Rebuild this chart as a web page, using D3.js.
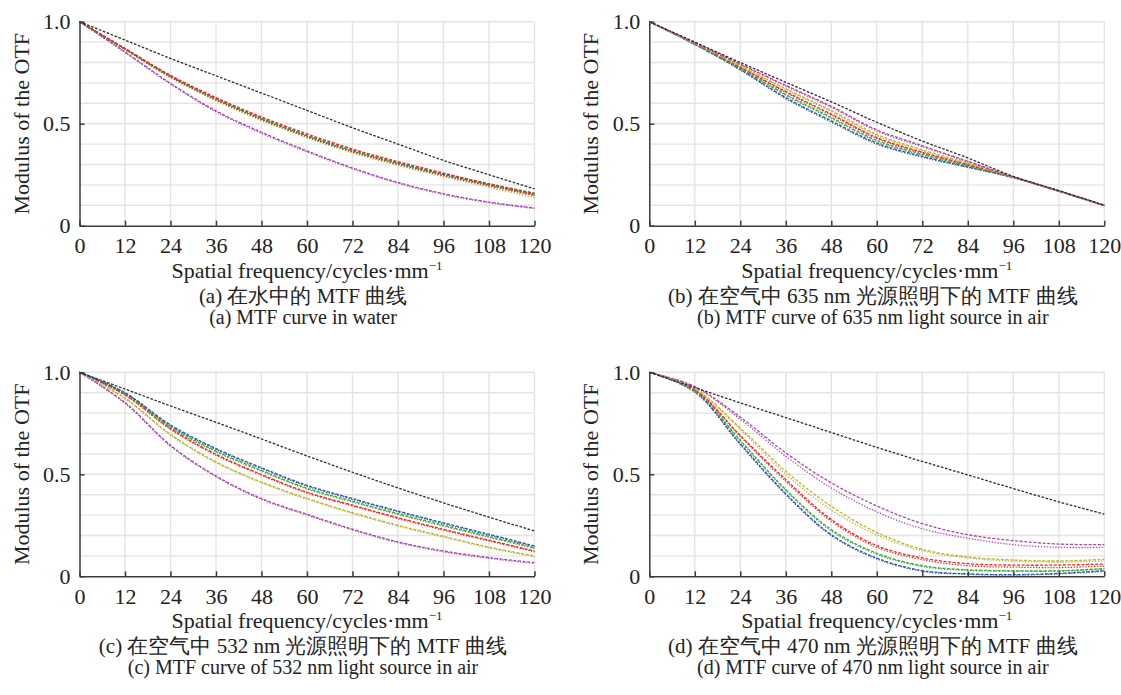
<!DOCTYPE html>
<html lang="en">
    <head>
        <meta charset="utf-8">
        <script type="text/javascript" src="https://cdn.jsdelivr.net/npm/d3@7"></script>
        <title>MTF curves</title>
        <style>
            body { margin: 0; background: #fff; }
            svg text { font-family: "Liberation Serif", "Tinos", "Times New Roman", Times, "Nimbus Roman", "DejaVu Serif", serif; fill: #222; }
        </style>
    </head>
    <body>
        <script type="text/javascript">
            // spatial frequency samples (cycles/mm) and axis ticks
            var freq = [0, 12, 24, 36, 48, 60, 72, 84, 96, 108, 120];
            var xTicks = [0, 12, 24, 36, 48, 60, 72, 84, 96, 108, 120];
            var yTicks = [0, 0.5, 1];
            var yTickLabels = ["0", "0.5", "1.0"];

            // (a) in water
            var aBlack   = [1, 0.91, 0.82, 0.735, 0.65, 0.565, 0.48, 0.40, 0.32, 0.25, 0.18];
            var aBlueT   = [1, 0.868, 0.735, 0.624, 0.527, 0.442, 0.368, 0.307, 0.252, 0.203, 0.158];
            var aBlueS   = [1, 0.866, 0.732, 0.620, 0.523, 0.438, 0.364, 0.303, 0.248, 0.199, 0.153];
            var aGreenT  = [1, 0.867, 0.733, 0.622, 0.526, 0.441, 0.369, 0.309, 0.255, 0.206, 0.160];
            var aGreenS  = [1, 0.864, 0.729, 0.617, 0.520, 0.435, 0.362, 0.301, 0.246, 0.197, 0.151];
            var aRedT    = [1, 0.869, 0.737, 0.628, 0.533, 0.450, 0.376, 0.314, 0.258, 0.205, 0.155];
            var aRedS    = [1, 0.865, 0.730, 0.618, 0.521, 0.437, 0.363, 0.302, 0.246, 0.195, 0.147];
            var aYellowT = [1, 0.866, 0.731, 0.621, 0.527, 0.444, 0.372, 0.310, 0.253, 0.199, 0.148];
            var aYellowS = [1, 0.862, 0.725, 0.612, 0.515, 0.431, 0.357, 0.295, 0.240, 0.188, 0.138];
            var aPurpleT = [1, 0.852, 0.698, 0.563, 0.458, 0.367, 0.283, 0.212, 0.157, 0.116, 0.087];
            var aPurpleS = [1, 0.849, 0.694, 0.558, 0.453, 0.362, 0.279, 0.208, 0.153, 0.113, 0.084];

            // (b) 635 nm in air
            var bBlack   = [1, 0.90, 0.80, 0.703, 0.607, 0.507, 0.415, 0.332, 0.242, 0.172, 0.100];
            var bPurpleT = [1, 0.897, 0.792, 0.688, 0.585, 0.470, 0.392, 0.316, 0.240, 0.171, 0.100];
            var bPurpleS = [1, 0.896, 0.790, 0.684, 0.580, 0.464, 0.387, 0.313, 0.239, 0.171, 0.100];
            var bYellowT = [1, 0.895, 0.784, 0.671, 0.565, 0.448, 0.372, 0.307, 0.239, 0.170, 0.100];
            var bYellowS = [1, 0.894, 0.782, 0.667, 0.559, 0.442, 0.367, 0.304, 0.238, 0.170, 0.100];
            var bRedT    = [1, 0.893, 0.777, 0.657, 0.547, 0.432, 0.360, 0.300, 0.238, 0.170, 0.100];
            var bRedS    = [1, 0.892, 0.775, 0.653, 0.542, 0.427, 0.356, 0.298, 0.237, 0.170, 0.100];
            var bGreenT  = [1, 0.891, 0.771, 0.643, 0.531, 0.418, 0.350, 0.294, 0.237, 0.170, 0.100];
            var bGreenS  = [1, 0.890, 0.769, 0.639, 0.526, 0.413, 0.346, 0.292, 0.236, 0.169, 0.099];
            var bBlueT   = [1, 0.889, 0.766, 0.628, 0.514, 0.405, 0.340, 0.288, 0.236, 0.169, 0.099];
            var bBlueS   = [1, 0.888, 0.763, 0.623, 0.508, 0.400, 0.336, 0.286, 0.235, 0.168, 0.098];

            // (c) 532 nm in air
            var cBlack   = [1, 0.918, 0.835, 0.755, 0.673, 0.590, 0.510, 0.433, 0.360, 0.290, 0.222];
            var cBlueT   = [1, 0.900, 0.742, 0.626, 0.532, 0.446, 0.381, 0.320, 0.262, 0.206, 0.149];
            var cBlueS   = [1, 0.898, 0.738, 0.622, 0.528, 0.442, 0.377, 0.316, 0.258, 0.202, 0.145];
            var cGreenT  = [1, 0.897, 0.733, 0.614, 0.519, 0.432, 0.368, 0.307, 0.250, 0.195, 0.140];
            var cGreenS  = [1, 0.895, 0.729, 0.610, 0.515, 0.428, 0.364, 0.303, 0.246, 0.191, 0.136];
            var cRedT    = [1, 0.890, 0.724, 0.598, 0.499, 0.412, 0.349, 0.287, 0.230, 0.177, 0.124];
            var cRedS    = [1, 0.888, 0.720, 0.594, 0.495, 0.408, 0.345, 0.283, 0.226, 0.173, 0.120];
            var cYellowT = [1, 0.874, 0.696, 0.561, 0.462, 0.382, 0.312, 0.250, 0.196, 0.143, 0.100];
            var cYellowS = [1, 0.871, 0.692, 0.557, 0.458, 0.378, 0.308, 0.246, 0.192, 0.139, 0.096];
            var cPurpleT = [1, 0.852, 0.642, 0.492, 0.381, 0.304, 0.231, 0.169, 0.124, 0.092, 0.067];
            var cPurpleS = [1, 0.848, 0.638, 0.488, 0.377, 0.300, 0.227, 0.165, 0.120, 0.088, 0.063];

            // (d) 470 nm in air
            var dBlack   = [1, 0.925, 0.850, 0.778, 0.705, 0.632, 0.563, 0.497, 0.430, 0.365, 0.305];
            var dPurpleT = [1, 0.930, 0.780, 0.605, 0.458, 0.345, 0.258, 0.204, 0.175, 0.158, 0.155];
            var dPurpleS = [1, 0.928, 0.770, 0.588, 0.433, 0.316, 0.233, 0.187, 0.155, 0.142, 0.142];
            var dYellowT = [1, 0.920, 0.727, 0.515, 0.343, 0.215, 0.132, 0.095, 0.080, 0.075, 0.083];
            var dYellowS = [1, 0.918, 0.720, 0.500, 0.325, 0.203, 0.125, 0.090, 0.074, 0.070, 0.075];
            var dRedT    = [1, 0.915, 0.690, 0.474, 0.278, 0.150, 0.090, 0.062, 0.055, 0.055, 0.060];
            var dRedS    = [1, 0.913, 0.685, 0.465, 0.270, 0.142, 0.082, 0.052, 0.045, 0.043, 0.050];
            var dGreenT  = [1, 0.910, 0.667, 0.425, 0.229, 0.113, 0.052, 0.032, 0.027, 0.027, 0.038];
            var dGreenS  = [1, 0.908, 0.662, 0.420, 0.222, 0.108, 0.048, 0.029, 0.025, 0.025, 0.035];
            var dBlueT   = [1, 0.905, 0.650, 0.405, 0.204, 0.089, 0.028, 0.012, 0.008, 0.014, 0.028];
            var dBlueS   = [1, 0.903, 0.645, 0.400, 0.200, 0.085, 0.025, 0.010, 0.006, 0.012, 0.024];

            var captionsCn = ["(a) 在水中的 MTF 曲线",
                              "(b) 在空气中 635 nm 光源照明下的 MTF 曲线",
                              "(c) 在空气中 532 nm 光源照明下的 MTF 曲线",
                              "(d) 在空气中 470 nm 光源照明下的 MTF 曲线"];
            var captionsEn = ["(a) MTF curve in water",
                              "(b) MTF curve of 635 nm light source in air",
                              "(c) MTF curve of 532 nm light source in air",
                              "(d) MTF curve of 470 nm light source in air"];

            var colors = { black: "#2b2b2b", blue: "#2e56a8", green: "#3da93a", red: "#e52a2a", yellow: "#b9b533", purple: "#a84aa8" };

            // helper to pair a series with its colour / dash
            function s(values, color, dash) { return { values: values, color: color, dash: dash }; }
            var dashT = "3,1.6", dashS = "1.3,1.6", dashBlack = "2.6,1.6";

            var panels = [
                { x: 79.5, y: 21.7, series: [
                    s(aPurpleT, colors.purple, dashT), s(aPurpleS, colors.purple, dashS),
                    s(aYellowS, colors.yellow, dashS), s(aYellowT, colors.yellow, dashT),
                    s(aBlueS, colors.blue, dashS), s(aBlueT, colors.blue, dashT),
                    s(aGreenS, colors.green, dashS), s(aGreenT, colors.green, dashT),
                    s(aRedS, colors.red, dashS), s(aRedT, colors.red, dashT),
                    s(aBlack, colors.black, dashBlack)] },
                { x: 649.3, y: 21.7, series: [
                    s(bBlueS, colors.blue, dashS), s(bBlueT, colors.blue, dashT),
                    s(bGreenS, colors.green, dashS), s(bGreenT, colors.green, dashT),
                    s(bRedS, colors.red, dashS), s(bRedT, colors.red, dashT),
                    s(bYellowS, colors.yellow, dashS), s(bYellowT, colors.yellow, dashT),
                    s(bPurpleS, colors.purple, dashS), s(bPurpleT, colors.purple, dashT),
                    s(bBlack, colors.black, dashBlack)] },
                { x: 79.5, y: 372.3, series: [
                    s(cPurpleS, colors.purple, dashS), s(cPurpleT, colors.purple, dashT),
                    s(cYellowS, colors.yellow, dashS), s(cYellowT, colors.yellow, dashT),
                    s(cRedS, colors.red, dashS), s(cRedT, colors.red, dashT),
                    s(cGreenS, colors.green, dashS), s(cGreenT, colors.green, dashT),
                    s(cBlueS, colors.blue, dashS), s(cBlueT, colors.blue, dashT),
                    s(cBlack, colors.black, dashBlack)] },
                { x: 649.3, y: 372.3, series: [
                    s(dBlueS, colors.blue, dashS), s(dBlueT, colors.blue, dashT),
                    s(dGreenS, colors.green, dashS), s(dGreenT, colors.green, dashT),
                    s(dRedS, colors.red, dashS), s(dRedT, colors.red, dashT),
                    s(dYellowS, colors.yellow, dashS), s(dYellowT, colors.yellow, dashT),
                    s(dPurpleS, colors.purple, dashS), s(dPurpleT, colors.purple, dashT),
                    s(dBlack, colors.black, dashBlack)] }
            ];

            var W = 1121, H = 695;
            var pw = 455, ph = 204;   // plot area size

            var svg = d3.select("body").append("svg")
                        .attr("width", W)
                        .attr("height", H);

            panels.forEach(function(p, i) {
                var xScale = d3.scaleLinear().domain([0, 120]).range([0, pw]);
                var yScale = d3.scaleLinear().domain([0, 1]).range([ph, 0]);

                var g = svg.append("g").attr("transform", "translate(" + p.x + "," + p.y + ")");

                // grid: vertical every 12, horizontal every 0.1
                g.append("g").selectAll("line")
                    .data(xTicks.slice(1))
                    .enter().append("line")
                    .attr("x1", function(d) { return xScale(d); })
                    .attr("x2", function(d) { return xScale(d); })
                    .attr("y1", 0).attr("y2", ph)
                    .attr("stroke", "#e4e4e4").attr("stroke-width", 1.4);

                g.append("g").selectAll("line")
                    .data(d3.range(1, 11).map(function(k) { return k / 10; }))
                    .enter().append("line")
                    .attr("x1", 0).attr("x2", pw)
                    .attr("y1", function(d) { return yScale(d); })
                    .attr("y2", function(d) { return yScale(d); })
                    .attr("stroke", "#e4e4e4").attr("stroke-width", 1.4);

                // curves
                var line = d3.line()
                    .x(function(d, j) { return xScale(freq[j]); })
                    .y(function(d) { return yScale(d); })
                    .curve(d3.curveCatmullRom.alpha(0.5));

                g.append("g").selectAll("path")
                    .data(p.series)
                    .enter().append("path")
                    .attr("d", function(d) { return line(d.values); })
                    .attr("fill", "none")
                    .attr("stroke", function(d) { return d.color; })
                    .attr("stroke-width", 1.3)
                    .attr("stroke-dasharray", function(d) { return d.dash; });

                // axes, ticks pointing inward
                var xAxis = d3.axisBottom(xScale)
                    .tickValues(xTicks)
                    .tickSizeInner(-5)
                    .tickSizeOuter(0)
                    .tickPadding(12);
                var yAxis = d3.axisLeft(yScale)
                    .tickValues(yTicks)
                    .tickFormat(function(d, j) { return yTickLabels[j]; })
                    .tickSizeInner(-5)
                    .tickSizeOuter(0)
                    .tickPadding(9);

                var gx = g.append("g").attr("transform", "translate(0," + ph + ")").call(xAxis);
                var gy = g.append("g").call(yAxis);
                gx.attr("font-family", null).attr("font-size", null);
                gy.attr("font-family", null).attr("font-size", null);
                [gx, gy].forEach(function(a) {
                    a.selectAll("path, line").attr("stroke", "#3a3a3a").attr("stroke-width", 1.5);
                    a.selectAll("text")
                        .style("font-size", "22px")
                        .attr("fill", "#222");
                });

                // y label
                g.append("text")
                    .attr("transform", "translate(" + (-51) + "," + (ph / 2) + ") rotate(-90)")
                    .attr("text-anchor", "middle")
                    .style("font-size", "22px")
                    .text("Modulus of the OTF");

                // x label with superscript
                var xl = g.append("text")
                    .attr("x", pw / 2)
                    .attr("y", ph + 52)
                    .attr("text-anchor", "middle")
                    .style("font-size", "22px");
                xl.append("tspan").text("Spatial frequency/cycles\u00b7mm");
                xl.append("tspan").attr("dy", -8).style("font-size", "13px").text("\u22121");

                // captions
                g.append("text")
                    .attr("x", pw / 2 - 4)
                    .attr("y", ph + 77)
                    .attr("text-anchor", "middle")
                    .style("font-size", "21px")
                    .text(captionsCn[i]);
                g.append("text")
                    .attr("x", pw / 2 - 4)
                    .attr("y", ph + 98)
                    .attr("text-anchor", "middle")
                    .style("font-size", "20px")
                    .text(captionsEn[i]);
            });
        </script>
    </body>
</html>
